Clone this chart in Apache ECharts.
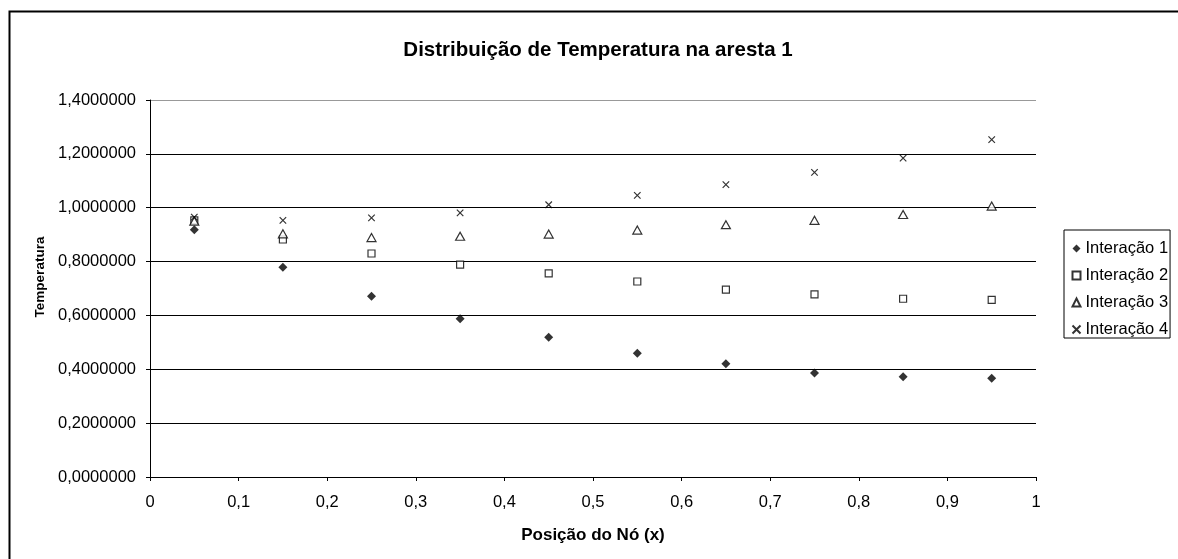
<!DOCTYPE html>
<html>
<head>
<meta charset="utf-8">
<script src="https://cdn.jsdelivr.net/npm/echarts@6/dist/echarts.min.js"></script>
<style>html,body{margin:0;padding:0;background:#fff;}#c{width:1178px;height:559px;}</style>
</head>
<body>
<div id="c"></div>
<script>
var positions = [0.05, 0.15, 0.25, 0.35, 0.45, 0.55, 0.65, 0.75, 0.85, 0.95];
var interacao1 = [0.918, 0.779, 0.671, 0.588, 0.519, 0.460, 0.421, 0.386, 0.372, 0.367];
var interacao2 = [0.953, 0.882, 0.830, 0.789, 0.756, 0.726, 0.696, 0.678, 0.662, 0.658];
var interacao3 = [0.950, 0.903, 0.889, 0.894, 0.902, 0.917, 0.937, 0.953, 0.975, 1.006];
var interacao4 = [0.965, 0.953, 0.962, 0.981, 1.011, 1.046, 1.086, 1.131, 1.184, 1.253];
var seriesNames = ['Interação 1', 'Interação 2', 'Interação 3', 'Interação 4'];
var yAxisTitle = 'Temperatura';

function pairs(ys) { return positions.map(function (x, i) { return [x, ys[i]]; }); }

var chart = echarts.init(document.getElementById('c'), null, {renderer: 'canvas'});
var font = 'Arial, "Liberation Sans", sans-serif';
var crossPath = 'path://M0,0L10,10M10,0L0,10';

chart.setOption({
  animation: false,
  backgroundColor: '#fff',
  textStyle: {fontFamily: font, color: '#000'},
  title: {
    text: 'Distribuição de Temperatura na aresta 1',
    left: 593, top: 35, textAlign: 'center',
    textStyle: {fontFamily: font, fontSize: 20.5, fontWeight: 'bold', color: '#000'}
  },
  graphic: [{
    type: 'rect', shape: {x: 9.5, y: 11.5, width: 1200, height: 600},
    style: {fill: 'none', stroke: '#000', lineWidth: 2}, silent: true, z: 100
  }, {
    type: 'text', x: 40, y: 277, rotation: Math.PI / 2, silent: true,
    style: {text: yAxisTitle, fontFamily: font, fontSize: 13.5, fontWeight: 'bold', fill: '#000',
      align: 'center', verticalAlign: 'middle'}
  }],
  legend: {
    orient: 'vertical', left: 1064, top: 230,
    data: seriesNames,
    borderColor: '#000', borderWidth: 1, padding: [10, 2, 0, 6],
    itemGap: 10, itemWidth: 8, itemHeight: 8,
    textStyle: {fontFamily: font, fontSize: 16.5, lineHeight: 17, color: '#000', padding: [0, 0, 0, 0]}
  },
  grid: {left: 150, top: 100, width: 886, height: 377, containLabel: false},
  xAxis: {
    type: 'value', min: 0, max: 1, interval: 0.1,
    name: 'Posição do Nó (x)', nameLocation: 'middle', nameGap: 50,
    nameTextStyle: {fontFamily: font, fontSize: 17, fontWeight: 'bold', color: '#000'},
    axisLine: {onZero: false, lineStyle: {color: '#000', width: 1}},
    axisTick: {show: true, inside: false, length: 4, lineStyle: {color: '#000'}},
    axisLabel: {fontFamily: font, fontSize: 16.5, color: '#000', margin: 17,
      formatter: function (v) { return String(Math.round(v * 10) / 10).replace('.', ','); }},
    splitLine: {show: false}
  },
  yAxis: {
    type: 'value', min: 0, max: 1.4, interval: 0.2,
    axisLine: {show: true, lineStyle: {color: '#000', width: 1}},
    axisTick: {show: true, inside: false, length: 4, lineStyle: {color: '#000'}},
    axisLabel: {fontFamily: font, fontSize: 16.5, color: '#000', margin: 14,
      formatter: function (v) { return v.toFixed(7).replace('.', ','); }},
    splitLine: {show: true, lineStyle: {color: ['#000', '#000', '#000', '#000', '#000', '#000', '#000', '#999'], width: 1}}
  },
  series: [
    {name: seriesNames[0], type: 'scatter', data: pairs(interacao1), symbol: 'diamond', symbolSize: [9, 9],
      itemStyle: {color: '#000', borderColor: '#000', borderWidth: 0}},
    {name: seriesNames[1], type: 'scatter', data: pairs(interacao2), symbol: 'rect', symbolSize: 7,
      itemStyle: {color: '#fff', borderColor: '#000', borderWidth: 1.2}},
    {name: seriesNames[2], type: 'scatter', data: pairs(interacao3), symbol: 'triangle', symbolSize: [9, 8],
      itemStyle: {color: '#fff', borderColor: '#000', borderWidth: 1.2}},
    {name: seriesNames[3], type: 'scatter', data: pairs(interacao4), symbol: crossPath, symbolSize: 6.5,
      itemStyle: {color: 'none', borderColor: '#000', borderWidth: 1.2}}
  ]
});
</script>
</body>
</html>
